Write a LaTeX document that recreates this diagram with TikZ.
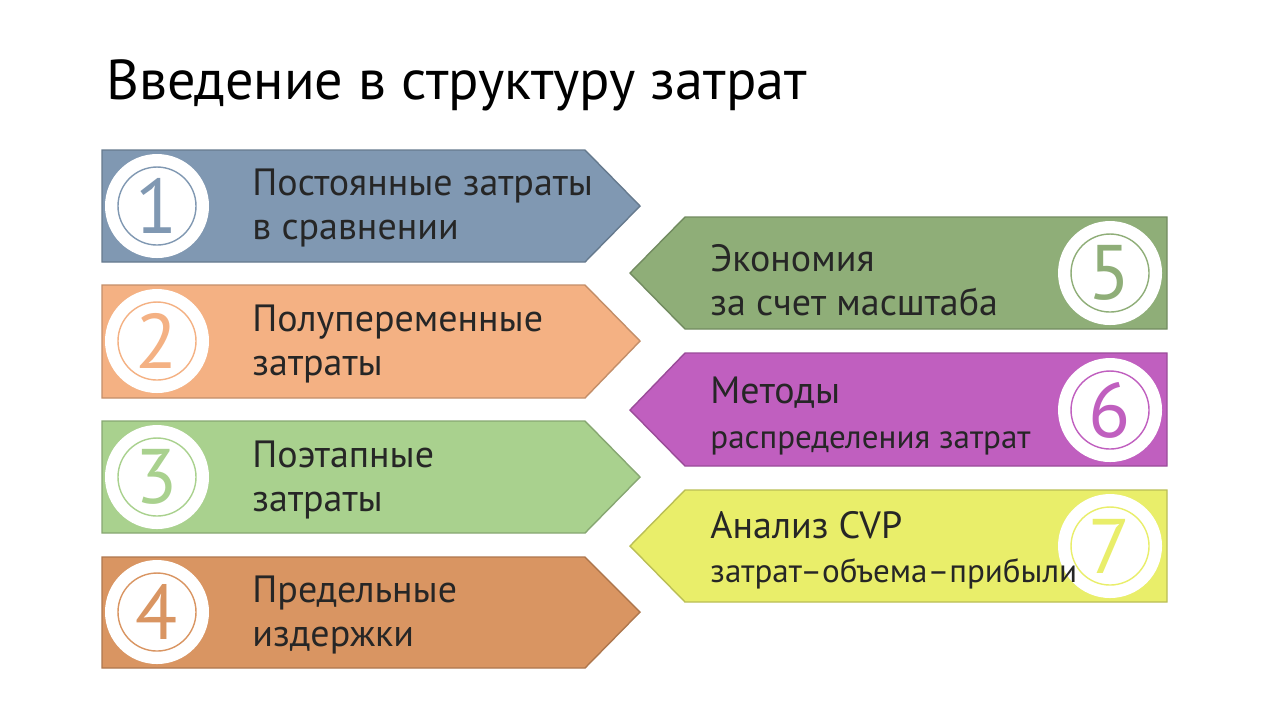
\documentclass[tikz,border=0pt]{standalone}
\usepackage{fontspec}
\setmainfont{PT Sans}
\usetikzlibrary{positioning}
\definecolor{cA}{HTML}{8098B2}
\definecolor{cB}{HTML}{F4B183}
\definecolor{cC}{HTML}{A9D18E}
\definecolor{cD}{HTML}{D99562}
\definecolor{cE}{HTML}{8FAE78}
\definecolor{cF}{HTML}{C05FBF}
\definecolor{cG}{HTML}{E9EE6A}
\newcommand{\subtxt}{\fontsize{9.4}{11}\selectfont}
\tikzset{
  lbl/.style={anchor=west, align=left, font=\fontsize{10.8}{12.6}\selectfont, text=black!85},
  num/.style={font=\fontsize{22}{22}\selectfont},
  disc/.style={fill=white},
}
\begin{document}
\begin{tikzpicture}[x=0.01cm,y=-0.01cm]
      \useasboundingbox (0,0) rectangle (1280,720);
      \node[anchor=west, font=\fontsize{16}{19}\selectfont] (title) at (94,85) {Введение в структуру затрат};

      \draw [fill=cA, draw=cA!80!black] (102,150) -- (585,150) -- (640,206) -- (585,262) -- (102,262) -- cycle;
      \draw [fill=cB, draw=cB!80!black] (102,285) -- (585,285) -- (640,341) -- (585,398) -- (102,398) -- cycle;
      \draw [fill=cC, draw=cC!80!black] (102,421) -- (585,421) -- (640,477) -- (585,533) -- (102,533) -- cycle;
      \draw [fill=cD, draw=cD!80!black] (102,557) -- (585,557) -- (640,612) -- (585,668) -- (102,668) -- cycle;
      \draw [fill=cE, draw=cE!80!black] (685,217) -- (1167,217) -- (1167,329) -- (685,329) -- (630,273) -- cycle;
      \draw [fill=cF, draw=cF!80!black] (685,353) -- (1167,353) -- (1167,466) -- (685,466) -- (630,410) -- cycle;
      \draw [fill=cG, draw=cG!80!black] (685,490) -- (1167,490) -- (1167,602) -- (685,602) -- (630,546) -- cycle;

      \fill [disc] (157,206) circle (52);
      \fill [disc] (157,341) circle (52);
      \fill [disc] (157,477) circle (52);
      \fill [disc] (157,612) circle (52);
      \fill [disc] (1110,273) circle (52);
      \fill [disc] (1110,410) circle (52);
      \fill [disc] (1110,546) circle (52);
      \draw [cA, thin] (157,206) circle (39);
      \draw [cB, thin] (157,341) circle (39);
      \draw [cC, thin] (157,477) circle (39);
      \draw [cD, thin] (157,612) circle (39);
      \draw [cE, thin] (1110,273) circle (39);
      \draw [cF, thin] (1110,410) circle (39);
      \draw [cG, thin] (1110,546) circle (39);

      \node [num, text=cA] (n1) at (157,206) {1};
      \node [num, text=cB] (n2) at (157,341) {2};
      \node [num, text=cC] (n3) at (157,477) {3};
      \node [num, text=cD] (n4) at (157,612) {4};
      \node [num, text=cE] (n5) at (1110,273) {5};
      \node [num, text=cF] (n6) at (1110,410) {6};
      \node [num, text=cG] (n7) at (1110,546) {7};

      \node [lbl] (t1) at (240,208) {Постоянные затраты\\в сравнении};
      \node [lbl] (t2) at (240,344) {Полупеременные\\затраты};
      \node [lbl] (t3) at (240,480) {Поэтапные\\затраты};
      \node [lbl] (t4) at (240,615) {Предельные\\издержки};
      \node [lbl] (t5) at (698,280) {Экономия\\за счет масштаба};
      \node [lbl] (t6) at (698,416) {Методы\\{\subtxt распределения затрат}};
      \node [lbl] (t7) at (698,550) {Анализ CVP\\{\subtxt затрат–объема–прибыли}};
\end{tikzpicture}
\end{document}
